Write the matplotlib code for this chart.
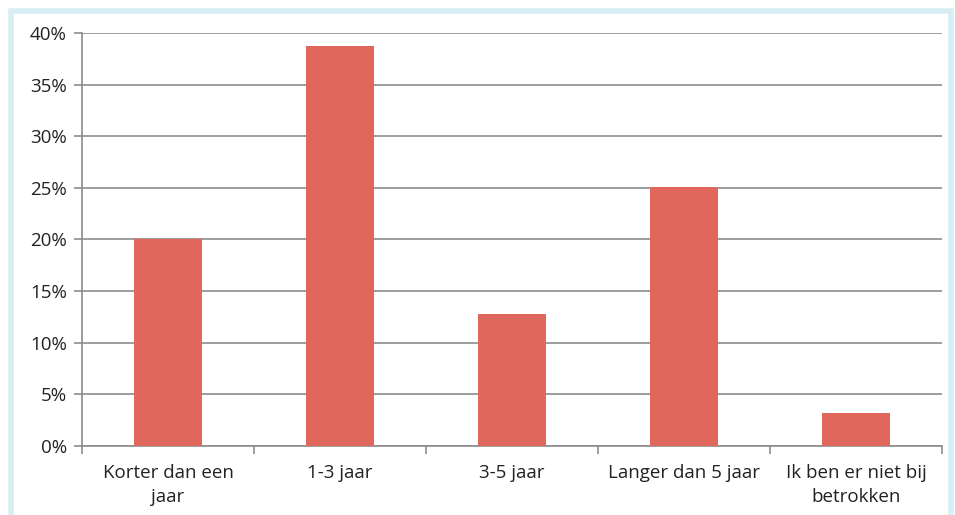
import matplotlib
matplotlib.use("Agg")
import matplotlib.pyplot as plt
from matplotlib.patches import Rectangle
from matplotlib.ticker import FuncFormatter, FixedLocator
import numpy as np

categories = ["Korter dan een\njaar", "1-3 jaar", "3-5 jaar", "Langer dan 5 jaar", "Ik ben er niet bij\nbetrokken"]
values = [20.0, 38.7, 12.8, 25.1, 3.2]
yticks = [0, 5, 10, 15, 20, 25, 30, 35, 40]

plt.rcParams['font.family'] = ['Open Sans', 'DejaVu Sans']

fig = plt.figure(figsize=(9.55, 5.15), dpi=100)
# light blue frame
fig.patches.append(Rectangle((11/955, -0.05), 940/955, 1 - 11/515 + 0.05, transform=fig.transFigure,
                             fill=False, edgecolor="#d8eef5", linewidth=4, zorder=0))

ax = fig.add_axes([82/955, 1 - 446/515, 860/955, 413/515])
x = np.arange(len(categories))
ax.bar(x, values, width=0.4, color="#e0675b", zorder=3)
ax.set_xlim(-0.5, len(categories) - 0.5)
ax.set_ylim(0, 40)
ax.set_yticks(yticks)
ax.yaxis.set_major_formatter(FuncFormatter(lambda v, p: f"{int(v)}%"))
ax.grid(axis="y", color="#8c8c8c", linewidth=1.2, zorder=1)
ax.set_axisbelow(True)

ax.set_xticks(x)
ax.set_xticklabels(categories, fontsize=13.5, color="#222222", linespacing=1.45)
ax.tick_params(axis="x", which="major", length=0, pad=13)
ax.xaxis.set_minor_locator(FixedLocator(np.arange(-0.5, len(categories), 1)))
ax.tick_params(axis="x", which="minor", length=6, width=1.2, color="#8c8c8c")
ax.tick_params(axis="y", length=6, width=1.2, color="#8c8c8c", labelsize=13.5, labelcolor="#222222", pad=5)

for s in ["top", "right"]:
    ax.spines[s].set_visible(False)
for s in ["left", "bottom"]:
    ax.spines[s].set_color("#8c8c8c")
    ax.spines[s].set_linewidth(1.2)

fig.savefig("out.png", dpi=100)
